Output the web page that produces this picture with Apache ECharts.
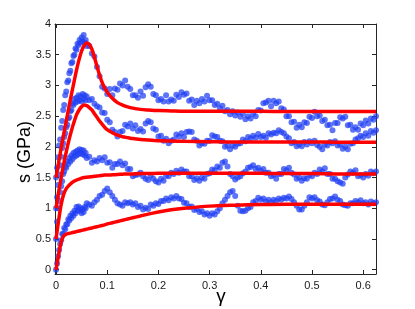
<!DOCTYPE html>
<html>
<head>
<meta charset="utf-8">
<script src="https://cdn.jsdelivr.net/npm/echarts@6/dist/echarts.min.js"></script>
<style>html,body{margin:0;padding:0;background:#fff}#c{width:415px;height:309px}</style>
</head>
<body>
<div id="c"></div>
<script>
// shared strain samples for the measured (blue) traces
var xs = [0,0.002,0.004,0.006,0.008,0.010,0.012,0.014,0.016,0.018,
0.020,0.022,0.024,0.026,0.028,0.030,0.032,0.034,0.036,0.038,
0.040,0.042,0.044,0.046,0.048,0.050,0.052,0.054,0.056,0.058,0.060,
0.065,0.070,0.075,0.080,0.085,0.090,0.095,0.100,0.105,0.110,
0.115,0.120,0.125,0.130,0.135,0.140,0.145,0.150,0.155,0.160,
0.165,0.170,0.175,0.180,0.185,0.190,0.195,0.200,0.205,0.210,
0.215,0.220,0.225,0.230,0.235,0.240,0.245,0.250,0.255,0.260,
0.265,0.270,0.275,0.280,0.285,0.290,0.295,0.300,0.305,0.310,
0.315,0.320,0.325,0.330,0.335,0.340,0.345,0.350,0.355,0.360,
0.365,0.370,0.375,0.380,0.385,0.390,0.395,0.400,0.405,0.410,
0.415,0.420,0.425,0.430,0.435,0.440,0.445,0.450,0.455,0.460,
0.465,0.470,0.475,0.480,0.485,0.490,0.495,0.500,0.505,0.510,
0.515,0.520,0.525,0.530,0.535,0.540,0.545,0.550,0.555,0.560,
0.565,0.570,0.575,0.580,0.585,0.590,0.595,0.600,0.605,0.610,
0.615,0.620,0.625];

var s1 = [1.50,1.66,1.83,2.02,2.12,2.31,2.42,2.60,2.68,2.84,
2.90,3.05,3.08,3.20,3.24,3.36,3.38,3.48,3.50,3.60,
3.58,3.68,3.66,3.74,3.70,3.78,3.72,3.82,3.70,3.74,3.64,
3.64,3.52,3.47,3.30,3.15,2.98,2.95,2.86,2.94,2.84,
2.95,2.93,3.03,3.00,3.08,2.98,2.94,2.84,2.84,2.80,
2.90,2.83,2.97,3.02,2.98,2.86,2.84,2.76,2.78,2.74,
2.84,2.74,2.77,2.75,2.85,2.81,2.89,2.85,2.87,2.75,
2.77,2.68,2.75,2.71,2.78,2.74,2.83,2.76,2.76,2.68,
2.70,2.63,2.67,2.58,2.60,2.53,2.58,2.51,2.56,2.49,
2.54,2.45,2.50,2.46,2.54,2.50,2.60,2.59,2.71,2.72,
2.75,2.66,2.75,2.71,2.74,2.63,2.61,2.50,2.50,2.40,
2.41,2.31,2.36,2.32,2.40,2.39,2.49,2.47,2.57,2.50,
2.51,2.42,2.44,2.35,2.36,2.27,2.39,2.39,2.48,2.46,
2.49,2.35,2.36,2.28,2.32,2.28,2.38,2.35,2.43,2.38,
2.46,2.44,2.50];

var s2 = [1.00,1.18,1.38,1.55,1.70,1.84,1.98,2.06,2.16,2.22,
2.32,2.36,2.46,2.48,2.58,2.60,2.70,2.68,2.78,2.72,
2.80,2.74,2.84,2.76,2.82,2.74,2.86,2.78,2.84,2.76,2.82,
2.76,2.78,2.70,2.66,2.64,2.56,2.55,2.44,2.40,2.28,
2.24,2.17,2.24,2.26,2.36,2.33,2.38,2.30,2.35,2.26,
2.29,2.25,2.38,2.42,2.40,2.30,2.28,2.17,2.18,2.10,
2.13,2.06,2.10,2.12,2.20,2.17,2.22,2.16,2.24,2.25,
2.24,2.12,2.10,2.02,2.06,2.05,2.10,2.10,2.19,2.17,
2.16,2.10,2.09,2.00,2.02,1.96,2.02,2.00,2.05,2.06,
2.12,2.09,2.16,2.14,2.18,2.15,2.21,2.16,2.18,2.15,
2.22,2.20,2.23,2.22,2.27,2.24,2.22,2.17,2.14,2.06,
2.08,2.01,2.04,2.01,2.08,2.04,2.09,2.06,2.10,2.03,
2.00,1.96,2.04,2.02,2.08,2.06,2.09,2.02,2.04,1.97,
2.00,1.96,2.05,2.06,2.12,2.14,2.18,2.16,2.22,2.18,
2.26,2.23,2.27];

var s3 = [0.50,0.78,1.00,1.12,1.26,1.36,1.44,1.56,1.60,1.68,
1.66,1.76,1.72,1.82,1.76,1.86,1.80,1.90,1.84,1.92,
1.86,1.94,1.88,1.96,1.90,1.95,1.88,1.94,1.86,1.90,1.82,
1.84,1.74,1.78,1.76,1.82,1.78,1.83,1.74,1.75,1.66,
1.72,1.72,1.76,1.70,1.73,1.64,1.64,1.52,1.54,1.55,
1.58,1.52,1.48,1.46,1.53,1.48,1.44,1.42,1.48,1.45,
1.53,1.52,1.58,1.56,1.61,1.58,1.63,1.60,1.60,1.52,
1.52,1.46,1.49,1.45,1.50,1.48,1.56,1.57,1.63,1.62,
1.68,1.66,1.74,1.76,1.68,1.56,1.52,1.47,1.50,1.52,
1.57,1.60,1.66,1.67,1.70,1.64,1.66,1.61,1.64,1.58,
1.58,1.52,1.54,1.48,1.56,1.56,1.64,1.62,1.66,1.58,
1.55,1.48,1.50,1.45,1.49,1.48,1.54,1.52,1.58,1.56,
1.63,1.60,1.65,1.56,1.56,1.48,1.48,1.44,1.42,1.40,
1.50,1.55,1.60,1.58,1.62,1.52,1.54,1.50,1.56,1.53,
1.60,1.57,1.60];

var s4 = [0.00,0.10,0.22,0.32,0.42,0.48,0.58,0.58,0.68,0.66,
0.74,0.74,0.82,0.80,0.88,0.84,0.92,0.88,0.96,0.92,
1.02,0.96,1.03,0.96,1.00,0.92,0.98,0.94,1.02,1.00,1.08,
1.06,1.04,1.10,1.14,1.20,1.22,1.28,1.32,1.26,1.20,
1.14,1.08,1.06,1.04,1.10,1.08,1.10,1.06,1.08,1.02,
1.04,0.98,1.01,0.99,1.06,1.04,1.08,1.07,1.12,1.12,
1.16,1.13,1.18,1.16,1.20,1.16,1.15,1.09,1.08,1.02,
1.03,0.97,0.99,0.94,0.95,0.90,0.92,0.88,0.92,0.90,
0.95,1.00,1.08,1.14,1.20,1.26,1.28,1.20,1.04,0.96,
0.95,0.96,1.00,1.02,1.10,1.12,1.17,1.14,1.16,1.11,
1.14,1.10,1.14,1.12,1.16,1.14,1.17,1.16,1.19,1.15,
1.10,1.04,0.98,0.98,1.04,1.10,1.18,1.16,1.18,1.13,
1.11,1.06,1.05,1.10,1.15,1.16,1.19,1.14,1.12,1.06,
1.05,1.04,1.08,1.08,1.12,1.10,1.13,1.08,1.10,1.06,
1.11,1.08,1.10];

// model (red) curves
var redX = [0,0.005,0.01,0.015,0.02,0.025,0.03,0.035,0.04,0.045,
0.05,0.055,0.06,0.065,0.07,0.075,0.08,0.085,0.09,0.095,
0.1,0.11,0.12,0.13,0.14,0.15,0.165,0.18,0.2,0.225,
0.25,0.3,0.35,0.4,0.45,0.5,0.55,0.6,0.625];
var r1 = [1.50,1.74,1.98,2.20,2.42,2.64,2.85,3.05,3.25,3.42,
3.56,3.65,3.69,3.67,3.59,3.46,3.31,3.17,3.05,2.96,
2.89,2.79,2.72,2.68,2.65,2.63,2.61,2.60,2.59,2.585,
2.58,2.58,2.58,2.58,2.575,2.575,2.575,2.575,2.575];
var r2 = [1.00,1.26,1.50,1.72,1.92,2.10,2.26,2.40,2.52,2.60,
2.655,2.68,2.67,2.64,2.60,2.54,2.48,2.42,2.37,2.32,
2.28,2.23,2.19,2.165,2.15,2.135,2.12,2.11,2.10,2.095,
2.09,2.085,2.08,2.08,2.08,2.08,2.075,2.075,2.075];
var r3 = [0.50,0.80,1.06,1.23,1.32,1.37,1.41,1.44,1.46,1.475,
1.49,1.50,1.505,1.51,1.515,1.52,1.525,1.53,1.535,1.54,
1.54,1.545,1.55,1.555,1.56,1.56,1.565,1.565,1.57,1.57,
1.57,1.57,1.57,1.57,1.565,1.565,1.56,1.56,1.56];
var r4 = [0.00,0.24,0.45,0.55,0.58,0.59,0.60,0.61,0.62,0.63,
0.64,0.65,0.66,0.67,0.68,0.69,0.70,0.71,0.72,0.73,
0.745,0.765,0.785,0.805,0.825,0.845,0.875,0.905,0.94,0.975,
1.0,1.035,1.05,1.06,1.065,1.065,1.065,1.065,1.065];

var xTicks = [0,0.1,0.2,0.3,0.4,0.5,0.6];
var yTicks = [0,0.5,1,1.5,2,2.5,3,3.5,4];

function pairs(xa, ya){ return xa.map(function(x,i){ return [x, ya[i]]; }); }

var FONT = '"Liberation Sans", Arial, Helvetica, sans-serif';
var axisCol = '#262626';
var blue = 'rgba(32,62,242,0.9)';

function xAx(pos, show){
  return {
    type:'value', position:pos, min:-0.002, max:0.625,
    axisLine:{show:true, onZero:false, lineStyle:{color:axisCol, width:1}},
    axisTick:{show:true, inside:true, length:4, customValues:xTicks, lineStyle:{color:axisCol}},
    axisLabel:{show:show, customValues:xTicks, margin:6, fontSize:11, fontFamily:FONT, color:'#1a1a1a',
      formatter:function(v){ return String(Math.round(v*10)/10); }},
    splitLine:{show:false}
  };
}
function yAx(pos, show){
  return {
    type:'value', position:pos, min:-0.07, max:4,
    axisLine:{show:true, onZero:false, lineStyle:{color:axisCol, width:1}},
    axisTick:{show:true, inside:true, length:4, customValues:yTicks, lineStyle:{color:axisCol}},
    axisLabel:{show:show, customValues:yTicks, margin:4, fontSize:11, fontFamily:FONT, color:'#1a1a1a',
      formatter:function(v){ return String(Math.round(v*10)/10); }},
    splitLine:{show:false}
  };
}

function scat(ya){
  return {type:'scatter', xAxisIndex:0, yAxisIndex:0, data:pairs(xs, ya), symbol:'circle', symbolSize:6,
    itemStyle:{color:blue}, silent:true, animation:false, z:2};
}
function red(ya){
  return {type:'line', xAxisIndex:0, yAxisIndex:0, data:pairs(redX, ya), smooth:0.3, showSymbol:false,
    lineStyle:{color:'#ff0000', width:3.5}, silent:true, animation:false, z:3};
}

var chart = echarts.init(document.getElementById('c'), null, {renderer:'canvas'});
chart.setOption({
  backgroundColor:'#ffffff',
  animation:false,
  grid:{left:55, top:24, width:321, height:250, containLabel:false},
  xAxis:[xAx('bottom', true), xAx('top', false)],
  yAxis:[yAx('left', true), yAx('right', false)],
  series:[scat(s1), scat(s2), scat(s3), scat(s4), red(r1), red(r2), red(r3), red(r4)],
  graphic:[
    {type:'text', x:25, y:152, rotation:Math.PI/2,
      style:{text:'s (GPa)', font:'18px ' + FONT, fill:'#000', align:'center', verticalAlign:'middle', textAlign:'center', textVerticalAlign:'middle'}},
    {type:'text', x:221, y:297,
      style:{text:'γ', font:'19px ' + FONT, fill:'#000', align:'center', verticalAlign:'middle', textAlign:'center', textVerticalAlign:'middle'}}
  ]
});
</script>
</body>
</html>
